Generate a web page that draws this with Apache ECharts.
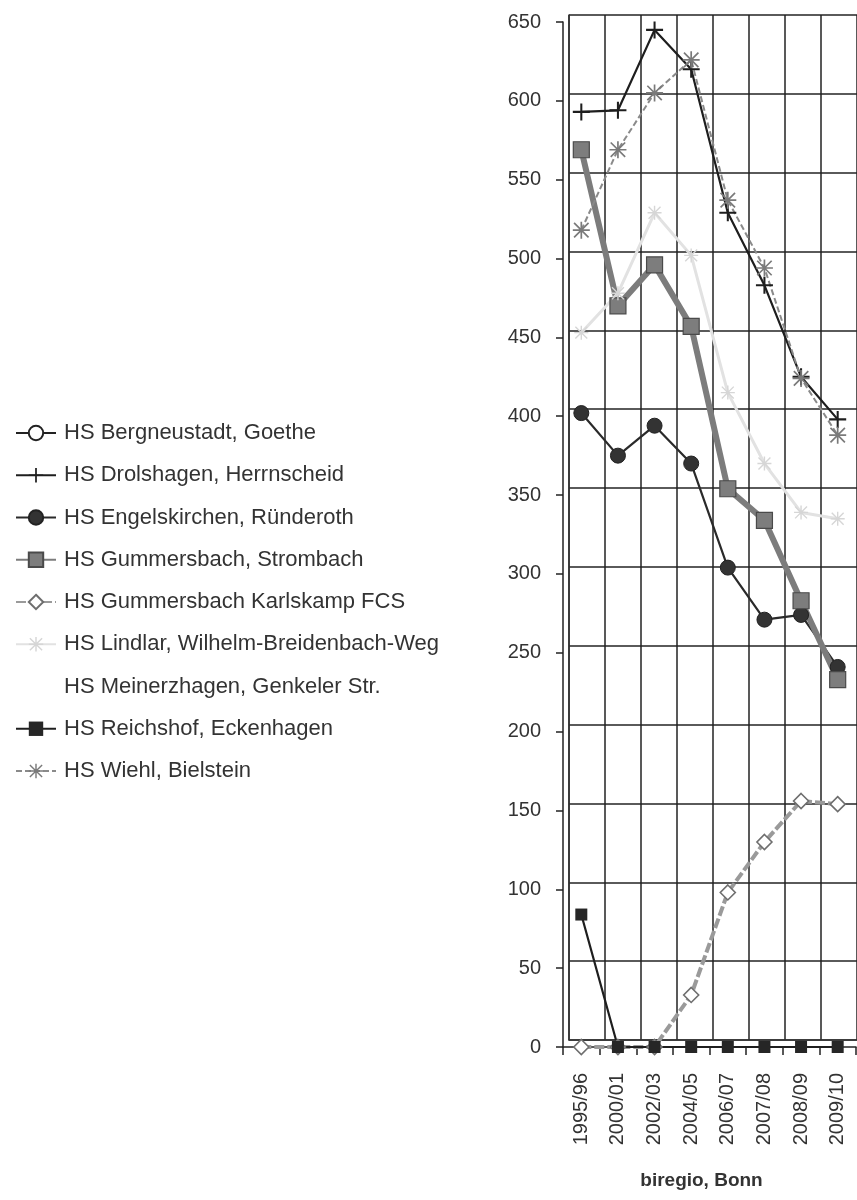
<!DOCTYPE html>
<html>
<head>
<meta charset="utf-8">
<script src="https://cdn.jsdelivr.net/npm/echarts@6/dist/echarts.min.js"></script>
<style>
  html, body { margin: 0; padding: 0; background: #fff; }
  #chart { width: 857px; height: 1200px; }
</style>
</head>
<body>
<div id="chart"></div>
<script>
// School years on the category axis
const categories = ['1995/96', '2000/01', '2002/03', '2004/05', '2006/07', '2007/08', '2008/09', '2009/10'];

// Pupil numbers per school (null = no value)
const bergneustadt = [null, null, null, null, null, null, null, null];
const drolshagen   = [593, 594, 645, 620, 529, 483, 425, 398];
const engelskirchen = [402, 375, 394, 370, 304, 271, 274, 241];
const strombach    = [569, 470, 496, 457, 354, 334, 283, 233];
const karlskamp    = [0, 0, 0, 33, 98, 130, 156, 154];
const lindlar      = [453, 478, 529, 502, 415, 370, 339, 335];
const meinerzhagen = [null, null, null, null, null, null, null, null];
const reichshof    = [84, 0, 0, 0, 0, 0, 0, 0];
const wiehl        = [518, 569, 605, 626, 537, 494, 424, 388];

const seriesNames = [
  'HS Bergneustadt, Goethe',
  'HS Drolshagen, Herrnscheid',
  'HS Engelskirchen, Ründeroth',
  'HS Gummersbach, Strombach',
  'HS Gummersbach Karlskamp FCS',
  'HS Lindlar, Wilhelm-Breidenbach-Weg',
  'HS Meinerzhagen, Genkeler Str.',
  'HS Reichshof, Eckenhagen',
  'HS Wiehl, Bielstein'
];

const yMin = 0, yMax = 650, yStep = 50;

const FONT = '"Liberation Sans", Arial, Helvetica, sans-serif';

// Marker shapes built from bars
const PLUS = 'path://M8.8 0 L11.2 0 L11.2 20 L8.8 20 Z M0 8.8 L20 8.8 L20 11.2 L0 11.2 Z';
const STAR = 'path://M9 0 L11 0 L11 20 L9 20 Z M0 9 L20 9 L20 11 L0 11 Z ' +
             'M2.2 0.8 L19.2 17.8 L17.8 19.2 L0.8 2.2 Z M17.8 0.8 L19.2 2.2 L2.2 19.2 L0.8 17.8 Z';

const chart = echarts.init(document.getElementById('chart'), null, { renderer: 'canvas' });

function line(name, data, opts) {
  return Object.assign({
    name: name,
    type: 'line',
    data: data,
    xAxisIndex: 0,
    yAxisIndex: 0,
    showAllSymbol: true,
    connectNulls: false,
    animation: false
  }, opts);
}

const option = {
  backgroundColor: '#ffffff',
  animation: false,
  textStyle: { fontFamily: FONT },
  legend: {
    orient: 'vertical',
    left: 10,
    top: 417,
    itemWidth: 40,
    itemHeight: 18,
    itemGap: 20.25,
    data: seriesNames,
    selectedMode: false,
    textStyle: { fontSize: 22, lineHeight: 22, color: '#333', fontFamily: FONT, padding: [0, 0, 0, 3] }
  },
  grid: [
    // front plane: axes, ticks and labels
    { left: 563, top: 22, width: 293, height: 1025 },
    // back wall: grid lines
    { left: 569, top: 15, width: 293, height: 1025 }
  ],
  xAxis: [
    {
      gridIndex: 0,
      type: 'category',
      data: categories,
      boundaryGap: true,
      axisLine: { show: true, lineStyle: { color: '#222', width: 1.5 } },
      axisTick: { show: true, interval: 0, length: 8, lineStyle: { color: '#222', width: 1.5 } },
      axisLabel: { interval: 0, rotate: 90, fontSize: 20, color: '#333', margin: 26, fontFamily: FONT },
      splitLine: { show: false },
      name: 'biregio, Bonn',
      nameLocation: 'middle',
      nameGap: 124,
      nameTextStyle: { fontSize: 19, fontWeight: 'bold', color: '#333', fontFamily: FONT, padding: [0, 16, 0, 0] },
      z: 3
    },
    {
      gridIndex: 1,
      type: 'category',
      data: categories,
      boundaryGap: true,
      axisLine: { show: true, lineStyle: { color: '#333', width: 1.5 } },
      axisTick: { show: false },
      axisLabel: { show: false },
      splitLine: { show: true, interval: 0, lineStyle: { color: '#222', width: 1.5 } },
      z: 0
    }
  ],
  yAxis: [
    {
      gridIndex: 0,
      type: 'value',
      min: yMin, max: yMax, interval: yStep,
      axisLine: { show: true, lineStyle: { color: '#222', width: 1.5 } },
      axisTick: { show: true, length: 7, lineStyle: { color: '#222', width: 1.5 } },
      axisLabel: { fontSize: 20, color: '#333', margin: 22, fontFamily: FONT },
      splitLine: { show: false },
      z: 3
    },
    {
      gridIndex: 1,
      type: 'value',
      min: yMin, max: yMax, interval: yStep,
      axisLine: { show: true, lineStyle: { color: '#333', width: 1.5 } },
      axisTick: { show: false },
      axisLabel: { show: false },
      splitLine: { show: true, lineStyle: { color: '#5a5a5a', width: 1.8 } },
      z: 0
    }
  ],
  series: [
    line(seriesNames[0], bergneustadt, {
      symbol: 'emptyCircle', symbolSize: 13,
      lineStyle: { color: '#222', width: 2 },
      itemStyle: { color: '#222', borderColor: '#222', borderWidth: 2 }
    }),
    line(seriesNames[1], drolshagen, {
      symbol: PLUS, symbolSize: 17,
      lineStyle: { color: '#1e1e1e', width: 2.2 },
      itemStyle: { color: '#1e1e1e' }
    }),
    line(seriesNames[2], engelskirchen, {
      symbol: 'circle', symbolSize: 15,
      lineStyle: { color: '#2a2a2a', width: 2.2 },
      itemStyle: { color: '#333', borderColor: '#222', borderWidth: 1 }
    }),
    line(seriesNames[3], strombach, {
      symbol: 'rect', symbolSize: 16,
      lineStyle: { color: '#7c7c7c', width: 6 },
      itemStyle: { color: '#7d7d7d', borderColor: '#4a4a4a', borderWidth: 1.2 }
    }),
    line(seriesNames[4], karlskamp, {
      symbol: 'diamond', symbolSize: 15,
      lineStyle: { color: '#9a9a9a', width: 4, type: [10, 3] },
      itemStyle: { color: '#ffffff', borderColor: '#6e6e6e', borderWidth: 1.6 }
    }),
    line(seriesNames[5], lindlar, {
      symbol: STAR, symbolSize: 14,
      lineStyle: { color: '#e2e2e2', width: 3 },
      itemStyle: { color: '#d6d6d6' }
    }),
    line(seriesNames[6], meinerzhagen, {
      symbol: 'none',
      lineStyle: { color: '#ffffff', width: 2 },
      itemStyle: { color: '#ffffff' }
    }),
    line(seriesNames[7], reichshof, {
      symbol: 'rect', symbolSize: 12,
      lineStyle: { color: '#1e1e1e', width: 2.2 },
      itemStyle: { color: '#262626' }
    }),
    line(seriesNames[8], wiehl, {
      symbol: STAR, symbolSize: 17,
      lineStyle: { color: '#8a8a8a', width: 2, type: [6, 3] },
      itemStyle: { color: '#7a7a7a' }
    })
  ]
};

chart.setOption(option);
</script>
</body>
</html>
